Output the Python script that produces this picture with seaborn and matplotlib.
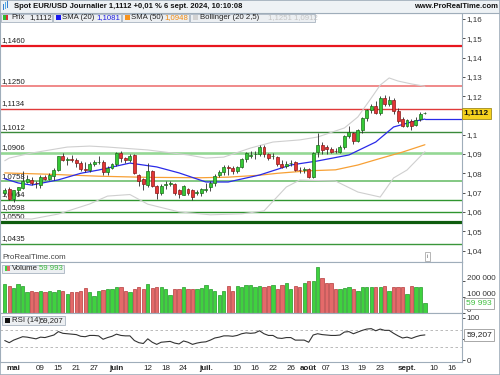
import matplotlib
matplotlib.use("Agg")
import matplotlib.pyplot as plt
import matplotlib.transforms as mtransforms
from matplotlib.patches import Rectangle
import numpy as np
import pandas as pd
import seaborn as sns

# trading days shown (EUR/USD daily)
days = pd.bdate_range("2024-04-29", "2024-09-06")

opens = [1.0696, 1.0718, 1.0665, 1.0713, 1.0725, 1.0755, 1.0765, 1.0752, 1.0740, 1.0780,
         1.0770, 1.0788, 1.0817, 1.0890, 1.0868, 1.0872, 1.0868, 1.0855, 1.0822, 1.0815,
         1.0848, 1.0858, 1.0858, 1.0805, 1.0830, 1.0848, 1.0903, 1.0878, 1.0870, 1.0895,
         1.0790, 1.0768, 1.0740, 1.0810, 1.0735, 1.0700, 1.0740, 1.0745, 1.0745, 1.0713,
         1.0688, 1.0718, 1.0713, 1.0700, 1.0696, 1.0713, 1.0730, 1.0750, 1.0790, 1.0808,
         1.0832, 1.0830, 1.0812, 1.0832, 1.0872, 1.0890, 1.0898, 1.0898, 1.0935, 1.0898,
         1.0888, 1.0883, 1.0848, 1.0838, 1.0852, 1.0860, 1.0818, 1.0815, 1.0821, 1.0782,
         1.0910, 1.0947, 1.0938, 1.0924, 1.0916, 1.0912, 1.0935, 1.0993, 1.1007, 1.0969,
         1.1024, 1.1085, 1.1128, 1.1150, 1.1111, 1.1192, 1.1160, 1.1180, 1.1123, 1.1080,
         1.1047, 1.1070, 1.1050, 1.1080, 1.1111]
highs = [1.0725, 1.0730, 1.0716, 1.0730, 1.0812, 1.0790, 1.0780, 1.0760, 1.0790, 1.0790,
         1.0800, 1.0825, 1.0890, 1.0906, 1.0885, 1.0895, 1.0880, 1.0862, 1.0860, 1.0860,
         1.0870, 1.0890, 1.0870, 1.0840, 1.0855, 1.0910, 1.0915, 1.0885, 1.0900, 1.0900,
         1.0795, 1.0775, 1.0852, 1.0815, 1.0740, 1.0745, 1.0760, 1.0760, 1.0752, 1.0720,
         1.0740, 1.0725, 1.0718, 1.0715, 1.0725, 1.0750, 1.0760, 1.0795, 1.0815, 1.0845,
         1.0845, 1.0840, 1.0840, 1.0880, 1.0910, 1.0915, 1.0915, 1.0948, 1.0945, 1.0905,
         1.0905, 1.0890, 1.0870, 1.0865, 1.0870, 1.0865, 1.0835, 1.0835, 1.0830, 1.0910,
         1.1009, 1.0960, 1.0945, 1.0935, 1.0930, 1.0945, 1.1000, 1.1045, 1.1015, 1.1030,
         1.1090, 1.1135, 1.1160, 1.1175, 1.1200, 1.1205, 1.1202, 1.1190, 1.1140, 1.1090,
         1.1080, 1.1080, 1.1090, 1.1120, 1.1118]
lows = [1.0690, 1.0660, 1.0650, 1.0680, 1.0720, 1.0750, 1.0740, 1.0725, 1.0725, 1.0765,
        1.0765, 1.0765, 1.0810, 1.0863, 1.0845, 1.0860, 1.0835, 1.0812, 1.0805, 1.0805,
        1.0840, 1.0850, 1.0790, 1.0790, 1.0820, 1.0840, 1.0860, 1.0855, 1.0860, 1.0795,
        1.0735, 1.0715, 1.0730, 1.0730, 1.0668, 1.0690, 1.0720, 1.0735, 1.0690, 1.0670,
        1.0685, 1.0690, 1.0662, 1.0690, 1.0680, 1.0705, 1.0710, 1.0735, 1.0780, 1.0790,
        1.0790, 1.0795, 1.0800, 1.0825, 1.0860, 1.0880, 1.0875, 1.0890, 1.0885, 1.0870,
        1.0875, 1.0840, 1.0825, 1.0825, 1.0840, 1.0810, 1.0800, 1.0800, 1.0775, 1.0775,
        1.0886, 1.0900, 1.0900, 1.0905, 1.0905, 1.0905, 1.0925, 1.0985, 1.0950, 1.0960,
        1.1010, 1.1070, 1.1115, 1.1105, 1.1100, 1.1150, 1.1150, 1.1105, 1.1060, 1.1040,
        1.1040, 1.1025, 1.1045, 1.1072, 1.1108]
closes = [1.0713, 1.0665, 1.0713, 1.0727, 1.0762, 1.0768, 1.0750, 1.0748, 1.0779, 1.0771,
          1.0790, 1.0817, 1.0888, 1.0870, 1.0873, 1.0870, 1.0855, 1.0822, 1.0815, 1.0848,
          1.0858, 1.0860, 1.0805, 1.0830, 1.0848, 1.0903, 1.0878, 1.0870, 1.0892, 1.0800,
          1.0762, 1.0742, 1.0812, 1.0735, 1.0700, 1.0735, 1.0745, 1.0748, 1.0700, 1.0692,
          1.0732, 1.0697, 1.0676, 1.0705, 1.0720, 1.0718, 1.0752, 1.0785, 1.0808, 1.0834,
          1.0826, 1.0810, 1.0834, 1.0872, 1.0904, 1.0895, 1.0900, 1.0935, 1.0898, 1.0878,
          1.0891, 1.0847, 1.0834, 1.0850, 1.0855, 1.0817, 1.0815, 1.0823, 1.0782, 1.0904,
          1.0947, 1.0920, 1.0924, 1.0912, 1.0914, 1.0938, 1.0993, 1.1016, 1.0967, 1.1023,
          1.1085, 1.1128, 1.1150, 1.1114, 1.1189, 1.1158, 1.1180, 1.1123, 1.1071, 1.1047,
          1.1075, 1.1047, 1.1078, 1.1106, 1.1112]

# volume (thousands)
volumes = [180, 170, 155, 180, 170, 130, 140, 130, 135, 130, 140, 130, 145, 140, 120,
           130, 130, 135, 155, 130, 105, 140, 145, 150, 150, 160, 160, 140, 130, 150,
           160, 150, 180, 155, 160, 160, 150, 110, 150, 150, 160, 150, 150, 150, 155,
           175, 150, 140, 110, 140, 170, 140, 170, 160, 175, 175, 160, 170, 160, 170,
           175, 150, 175, 185, 150, 170, 160, 190, 200, 200, 285, 220, 190, 190, 150,
           150, 155, 160, 150, 135, 165, 165, 165, 160, 160, 170, 140, 160, 160, 160,
           120, 170, 165, 160, 60]
volumes = [v * 1000 for v in volumes]
volumes[-1] = 59993

rsi = [46, 41, 47, 51, 55, 54, 52, 50, 54, 53, 56, 59, 67, 63, 62, 61, 60, 56, 55, 58,
       58, 57, 49, 53, 56, 61, 58, 57, 57, 46, 41, 39, 50, 42, 37, 42, 43, 44, 40, 38,
       45, 42, 37, 40, 42, 43, 47, 52, 54, 57, 57, 56, 58, 62, 64, 63, 64, 69, 62, 58,
       58, 52, 51, 53, 53, 47, 47, 47, 42, 59, 62, 60, 59, 58, 58, 59, 66, 67, 62, 66,
       70, 73, 74, 69, 73, 70, 70, 63, 57, 52, 54, 51, 55, 58, 59.207]

# indicator lines read at selected sessions (day index, value)
sma20_days = [0, 3, 6, 12, 17, 21, 28, 34, 39, 45, 50, 57, 64, 70, 77, 83, 87, 91, 94]
sma20_vals = [1.0772, 1.0750, 1.0739, 1.0766, 1.0800, 1.0817, 1.0853, 1.0833, 1.0802, 1.0755,
              1.0755, 1.0791, 1.0843, 1.0864, 1.0895, 1.0962, 1.1040, 1.1066, 1.1081]
sma50_days = [0, 10, 21, 32, 44, 50, 57, 61, 68, 74, 79, 84, 89, 94]
sma50_vals = [1.0802, 1.0795, 1.0785, 1.0779, 1.0777, 1.0780, 1.0790, 1.0800, 1.0813, 1.0818,
              1.0843, 1.0877, 1.0910, 1.0948]
boll_up_days = [0, 1, 6, 14, 19, 23, 32, 41, 45, 49, 55, 60, 66, 70, 76, 79, 82, 84, 86, 88, 91, 94]
boll_up_vals = [1.0865, 1.0879, 1.0905, 1.0936, 1.0941, 1.0936, 1.0921, 1.0895, 1.0879, 1.0884,
                1.0931, 1.0962, 1.0973, 1.0988, 1.1035, 1.1092, 1.1190, 1.1257, 1.1294, 1.1278,
                1.1263, 1.1251]
boll_lo_days = [0, 6, 12, 19, 23, 28, 32, 39, 46, 53, 58, 63, 66, 74, 79, 84, 87, 90, 94]
boll_lo_vals = [1.0568, 1.0563, 1.0589, 1.0641, 1.0682, 1.0690, 1.0640, 1.0600, 1.0585, 1.0590,
                1.0605, 1.0729, 1.0765, 1.0760, 1.0703, 1.0677, 1.0776, 1.0817, 1.0912]

levels = [1.1460, 1.1250, 1.1134, 1.1012, 1.0906, 1.0758, 1.0664, 1.0598, 1.0550, 1.0435]
level_colors = ["#e8161e", "#ec6a6a", "#e03a3a", "#3a8a3a", "#94d894", "#79c479",
                "#2f952f", "#2f952f", "#0e5c0e", "#3a963a"]
level_widths = [1.6, 1.1, 1.0, 1.0, 1.9, 1.3, 1.0, 1.0, 2.3, 1.0]

tick_dates = ["2024-05-01", "2024-05-09", "2024-05-15", "2024-05-21", "2024-05-27",
              "2024-06-03", "2024-06-12", "2024-06-18", "2024-06-24", "2024-07-01",
              "2024-07-10", "2024-07-16", "2024-07-22", "2024-07-26", "2024-08-01",
              "2024-08-07", "2024-08-13", "2024-08-19", "2024-08-23", "2024-09-02",
              "2024-09-10", "2024-09-16"]
tick_labels = ["mai", "09", "15", "21", "27", "juin", "12", "18", "24", "juil.", "10", "16",
               "22", "26", "août", "07", "13", "19", "23", "sept.", "10", "16"]
month_labels = {"mai", "juin", "juil.", "août", "sept."}

sns.set_style("white")
plt.rcParams["font.family"] = ["Liberation Sans", "DejaVu Sans"]

G_FILL, G_EDGE = "#36c936", "#1c6e1c"
R_FILL, R_EDGE = "#e33535", "#8a1a1a"
FRAME = "#9fadba"

fig = plt.figure(figsize=(5, 3.75), dpi=100)
W, H = 500.0, 375.0


def fx(px):
    return px / W


def fy(py):
    return 1 - py / H


ax_p = fig.add_axes([0, fy(262), fx(462), (262 - 13) / H])
ax_v = fig.add_axes([0, fy(313), fx(462), (313 - 262) / H])
ax_r = fig.add_axes([0, fy(362), fx(462), (362 - 313) / H])

n = len(days)
xs = np.arange(n)
cal = pd.bdate_range("2024-04-29", "2024-09-30")
tick_pos = [cal.get_loc(pd.Timestamp(d)) for d in tick_dates]
xmin, xmax = -1.06, 102.3

o = np.array(opens)
c = np.array(closes)
hi = np.array(highs)
lo = np.array(lows)
up = c >= o

# ---- price panel
for lv, col, lw in zip(levels, level_colors, level_widths):
    ax_p.axhline(lv, color=col, lw=lw, zorder=1)
    ax_p.annotate(f"{lv:.4f}".replace(".", ","), xy=(0.004, lv),
                  xycoords=mtransforms.blended_transform_factory(ax_p.transAxes, ax_p.transData),
                  xytext=(0, 1.2), textcoords="offset points", ha="left", va="bottom",
                  fontsize=5.6, color="#222222", zorder=1.5)

sns.lineplot(x=boll_up_days, y=boll_up_vals, ax=ax_p, color="#cfcfcf", lw=0.8,
             estimator=None, sort=False, zorder=2)
sns.lineplot(x=boll_lo_days, y=boll_lo_vals, ax=ax_p, color="#cfcfcf", lw=0.8,
             estimator=None, sort=False, zorder=2)
sns.lineplot(x=sma50_days, y=sma50_vals, ax=ax_p, color="#f7a035", lw=0.9,
             estimator=None, sort=False, zorder=2.2)
sns.lineplot(x=sma20_days, y=sma20_vals, ax=ax_p, color="#2a2ae8", lw=0.9,
             estimator=None, sort=False, zorder=2.3)
ax_p.plot([sma20_days[-1], xmax], [sma20_vals[-1], sma20_vals[-1]], color="#2a2ae8", lw=0.9, zorder=2.3)

ax_p.vlines(xs, lo, hi, color="#2a2a2a", lw=0.6, zorder=3)
body_h = np.maximum(np.abs(c - o), 0.00012)
ax_p.bar(xs, body_h, bottom=np.minimum(o, c), width=0.66,
         color=np.where(up, G_FILL, R_FILL), edgecolor=np.where(up, G_EDGE, R_EDGE),
         lw=0.5, zorder=4)

ax_p.set_xlim(xmin, xmax)
ax_p.set_ylim(1.09 - 108 / 1930, 1.09 + 141 / 1930)
ax_p.yaxis.tick_right()
price_ticks = np.round(np.arange(1.04, 1.1601, 0.01), 2)
ax_p.set_yticks(price_ticks)
# the 1,11 label sits under the last-price box, as in the reference
ax_p.set_yticklabels(["" if abs(v - 1.11) < 1e-9 else f"{v:.2f}".rstrip("0").replace(".", ",")
                      for v in price_ticks])
ax_p.set_xticks([])

btrans = mtransforms.blended_transform_factory(ax_p.transAxes, ax_p.transData)
ax_p.text(1.004, closes[-1], "1,1112", transform=btrans, ha="left", va="center",
          fontsize=6, fontweight="bold", color="#111111", clip_on=False, zorder=10,
          bbox=dict(boxstyle="square,pad=0.25", fc="#f6d21e", ec="#a08a1e", lw=0.6))
ax_p.text(0.006, 0.004, "ProRealTime.com", transform=ax_p.transAxes, fontsize=5.8,
          color="#444444", ha="left", va="bottom")
ax_p.text(0.925, 0.012, "i", transform=ax_p.transAxes, fontsize=4.5, color="#666666",
          ha="center", va="bottom",
          bbox=dict(boxstyle="square,pad=0.25", fc="white", ec="#9a9a9a", lw=0.5))

# ---- volume panel
ax_v.bar(xs, volumes, width=0.74, color=np.where(up, "#3fd23f", "#e46a6a"),
         edgecolor=np.where(up, "#239a29", "#b53a3a"), lw=0.5)
ax_v.set_xlim(xmin, xmax)
ax_v.set_ylim(0, 318000)
ax_v.yaxis.tick_right()
ax_v.set_yticks([0, 100000, 200000])
ax_v.set_yticklabels(["0", "100 000", "200 000"])
ax_v.set_xticks([])
vtrans = mtransforms.blended_transform_factory(ax_v.transAxes, ax_v.transData)
ax_v.text(1.009, volumes[-1], "59 993", transform=vtrans, ha="left", va="center",
          fontsize=6, color="#3fbf3f", clip_on=False, zorder=10,
          bbox=dict(boxstyle="square,pad=0.25", fc="white", ec="#9a9a9a", lw=0.6))

# ---- RSI panel
ax_r.axhline(70, color="#b0b0b0", lw=0.6, ls=(0, (3, 3)))
ax_r.axhline(30, color="#b0b0b0", lw=0.6, ls=(0, (3, 3)))
sns.lineplot(x=xs, y=rsi, ax=ax_r, color="#333333", lw=0.8, estimator=None, sort=False)
ax_r.set_xlim(xmin, xmax)
ax_r.set_ylim(-4.5, 110.8)
ax_r.yaxis.tick_right()
ax_r.set_yticks([0, 50, 100])
ax_r.set_yticklabels(["0", "", "100"])
rtrans = mtransforms.blended_transform_factory(ax_r.transAxes, ax_r.transData)
ax_r.text(1.009, rsi[-1], "59,207", transform=rtrans, ha="left", va="center",
          fontsize=6, color="#222222", clip_on=False, zorder=10,
          bbox=dict(boxstyle="square,pad=0.25", fc="white", ec="#9a9a9a", lw=0.6))
ax_r.set_xticks(tick_pos)
ax_r.set_xticklabels(tick_labels)
for t in ax_r.get_xticklabels():
    if t.get_text() in month_labels:
        t.set_fontweight("bold")

for ax in (ax_p, ax_v, ax_r):
    ax.set_xlabel("")
    ax.set_ylabel("")
    ax.tick_params(axis="y", labelsize=5.8, length=2, pad=1.5, colors="#333333", width=0.6)
    ax.tick_params(axis="x", labelsize=5.8, length=0, pad=2.5, colors="#222222")
    for s in ax.spines.values():
        s.set_color(FRAME)
        s.set_linewidth(0.8)

# volume labels sit a little above their ticks in the reference
shift = mtransforms.ScaledTranslation(0, 3 / 100, fig.dpi_scale_trans)
for lbl in ax_v.get_yticklabels():
    lbl.set_transform(lbl.get_transform() + shift)

# ---- header bar
fig.patches.append(Rectangle((0, fy(12.5)), 1, 12.5 / H, transform=fig.transFigure,
                             fc="#eef2f5", ec="none", zorder=0))
fig.add_artist(plt.Line2D([0, 1], [fy(12.5), fy(12.5)], transform=fig.transFigure,
                          color=FRAME, lw=0.8))
for k, col in enumerate(["#3a7fd0", "#55b0e8", "#3a7fd0"]):
    fig.patches.append(Rectangle((fx(3 + 2 * k), fy(10 - k)), fx(1.2), (6 + k) / H,
                                 transform=fig.transFigure, fc=col, ec="none"))
fig.text(fx(14), fy(6.5), "Spot EUR/USD Journalier 1,1112 +0,01 % 6 sept. 2024, 10:10:08",
         fontsize=5.5, fontweight="bold", color="#111111", ha="left", va="center")
fig.text(fx(498), fy(6.5), "www.ProRealTime.com", fontsize=5.5, fontweight="bold",
         color="#111111", ha="right", va="center")


def legend_box(x0, x1, y0, y1, swatch, parts):
    fig.patches.append(Rectangle((fx(x0), fy(y1)), fx(x1 - x0), (y1 - y0) / H,
                                 transform=fig.transFigure, fc="#eceff2", ec="#a8b4c0",
                                 lw=0.6, zorder=5))
    ym = (y0 + y1) / 2
    for k, col in enumerate(swatch):
        w = 5.0 / len(swatch)
        fig.patches.append(Rectangle((fx(x0 + 2.5 + k * w), fy(ym + 2.6)), fx(w), 5.2 / H,
                                     transform=fig.transFigure, fc=col, ec="none", zorder=6))
    for xt, txt, col in parts:
        fig.text(fx(xt), fy(ym), txt, fontsize=5.6, color=col, ha="left", va="center", zorder=7)


legend_box(0.5, 52, 13.5, 22, ["#2fb82f", "#d83030"], [(11, "Prix", "#222222"), (29, "1,1112", "#222222")])
legend_box(53, 121, 13.5, 22, ["#1818f0"], [(62, "SMA (20)", "#222222"), (96, "1,1081", "#2020e0")])
legend_box(122, 189, 13.5, 22, ["#f7931e"], [(131, "SMA (50)", "#222222"), (164, "1,0948", "#f08a10")])
legend_box(190, 315, 13.5, 22, ["#d2d2d2"], [(200, "Bollinger (20 2,5)", "#222222"),
                                            (268, "1,1251 1,0912", "#c4c4c4")])
legend_box(2, 64, 264.5, 273, ["#3fd23f", "#e46a6a"], [(12, "Volume", "#222222"), (39, "59 993", "#3fbf3f")])
legend_box(2, 65, 316, 324.5, ["#111111"], [(12, "RSI (14)", "#222222"), (40, "59,207", "#222222")])

fig.patches.append(Rectangle((0, 0), 1, 1, transform=fig.transFigure, fc="none",
                             ec=FRAME, lw=1.2, zorder=20))

fig.savefig("out.png", dpi=100)
